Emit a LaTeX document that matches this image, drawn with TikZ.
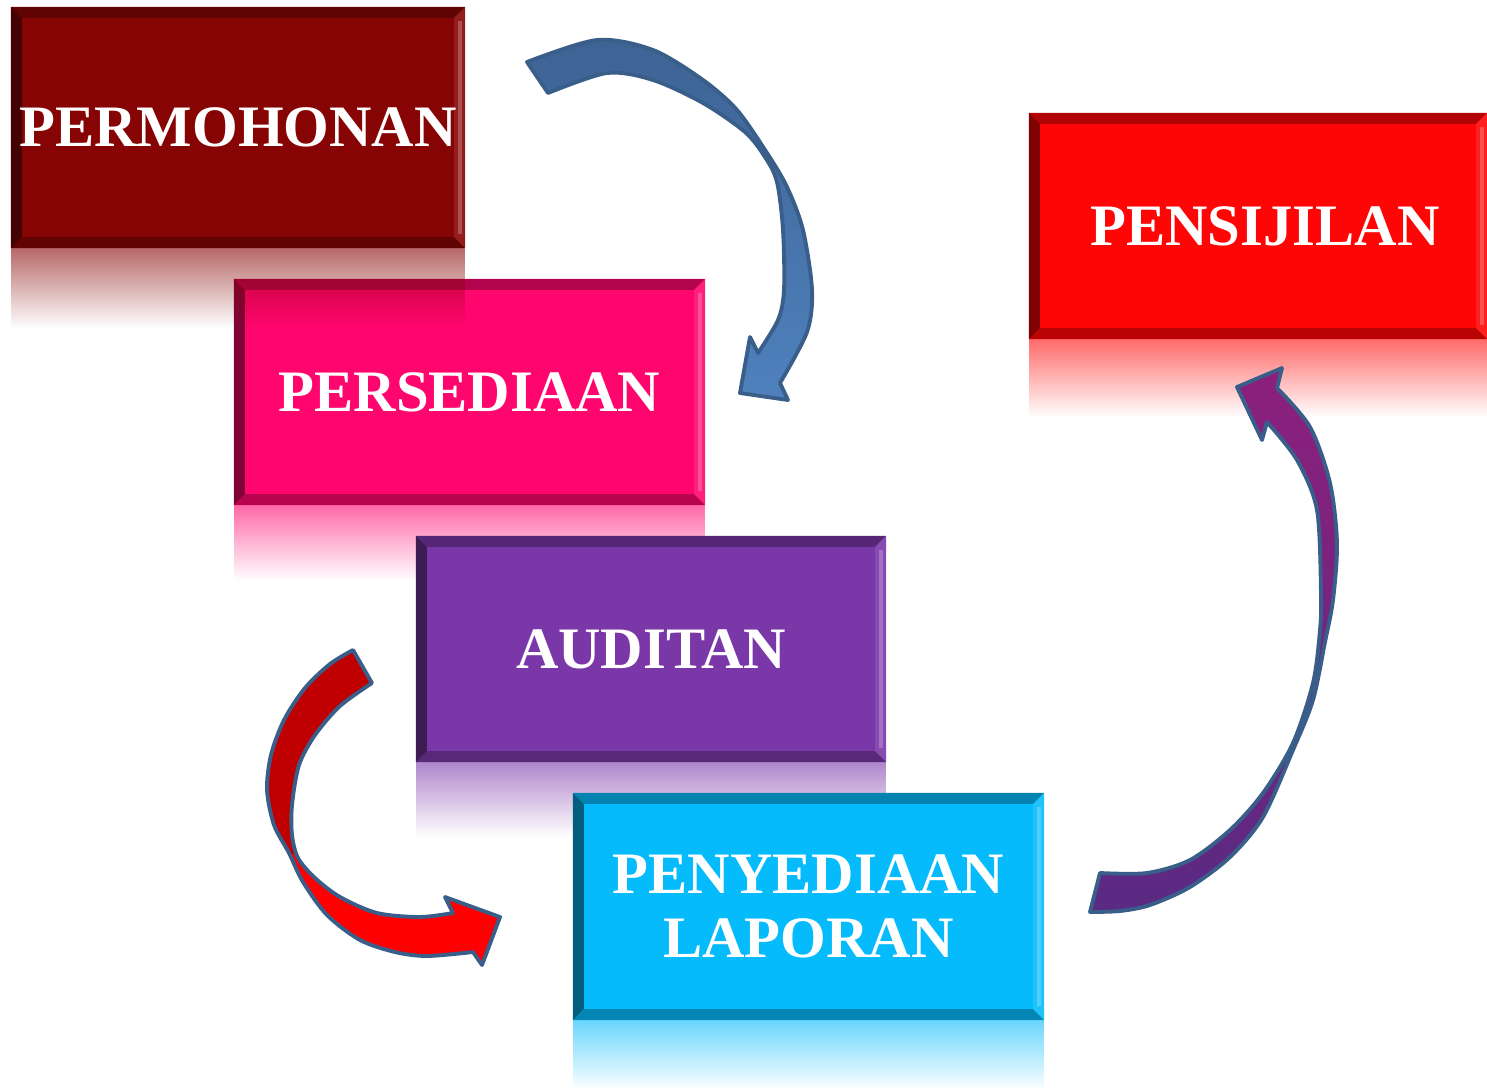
\documentclass[tikz,border=0pt]{standalone}
\usepackage{fontspec}
\setmainfont{Liberation Serif}
\usetikzlibrary{calc,fadings}
\definecolor{permred}{RGB}{135,4,4}
\definecolor{perspink}{RGB}{255,6,110}
\definecolor{auditpurple}{RGB}{122,55,168}
\definecolor{laporcyan}{RGB}{6,187,251}
\definecolor{sijilred}{RGB}{255,6,6}
\definecolor{arrowline}{RGB}{58,94,138}
\definecolor{bluetop}{RGB}{62,99,148}
\definecolor{bluebot}{RGB}{79,129,189}
\definecolor{reddark}{RGB}{192,0,0}
\definecolor{redlight}{RGB}{255,0,0}
\definecolor{purptop}{RGB}{140,32,124}
\definecolor{purpmid}{RGB}{112,48,160}
\definecolor{purpbot}{RGB}{90,42,130}

\begin{document}
\begin{tikzpicture}[x=0.01cm, y=-0.01cm,
    stepbox/.style={rectangle, inner sep=0pt, outer sep=0pt, fill=#1,
                    text=white, align=center,
                    font=\fontsize{16.7}{18}\selectfont\bfseries,
                    path picture={
                      \coordinate (bnw) at (path picture bounding box.north west);
                      \coordinate (bne) at (path picture bounding box.north east);
                      \coordinate (bsw) at (path picture bounding box.south west);
                      \coordinate (bse) at (path picture bounding box.south east);
                      \fill[#1!70!black] (bnw) -- (bne) -- ($(bne)+(-.11cm,-.11cm)$) -- ($(bnw)+(.11cm,-.11cm)$) -- cycle;
                      \fill[#1!72!black] (bsw) -- (bse) -- ($(bse)+(-.11cm,.11cm)$) -- ($(bsw)+(.11cm,.11cm)$) -- cycle;
                      \fill[#1!50!black] (bnw) -- (bsw) -- ($(bsw)+(.11cm,.11cm)$) -- ($(bnw)+(.11cm,-.11cm)$) -- cycle;
                      \fill[#1!90!white] (bne) -- (bse) -- ($(bse)+(-.11cm,.11cm)$) -- ($(bne)+(-.11cm,-.11cm)$) -- cycle;
                      \draw[#1!70!white, line width=1pt] ($(bne)+(-.05cm,-.14cm)$) -- ($(bse)+(-.05cm,.14cm)$);
                    }},
    refl/.style={fill=#1, fill opacity=.6, path fading=south},
    flow/.style={draw=arrowline, line width=1.1pt, line join=round}
  ]
    \useasboundingbox (0,0) rectangle (1487,1090);

    % boxes and their reflections
    \node[stepbox=permred, minimum width=4.54cm, minimum height=2.41cm]     (perm)  at (238,127.5) {PERMOHONAN};
    \node[stepbox=perspink, minimum width=4.71cm, minimum height=2.26cm]    (pers)  at (469.5,392) {PERSEDIAAN};
    \fill[refl=permred] (perm.south west) rectangle ++(454,80);
    \fill[refl=perspink] (pers.south west) rectangle ++(471,75);
    \node[stepbox=auditpurple, minimum width=4.70cm, minimum height=2.26cm] (audit) at (651,649)   {AUDITAN};
    \fill[refl=auditpurple] (audit.south west) rectangle ++(470,75);
    \node[stepbox=laporcyan, minimum width=4.71cm, minimum height=2.27cm]   (lapor) at (808.5,906.5) {PENYEDIAAN\\LAPORAN};
    \fill[refl=laporcyan] (lapor.south west) rectangle ++(471,70);
    \node[stepbox=sijilred, minimum width=4.58cm, minimum height=2.26cm]    (sijil) at (1258,226)  {\hspace*{.14cm}PENSIJILAN};
    \fill[refl=sijilred] (sijil.south west) rectangle ++(458,78);

    % curved arrows
    \path[flow, top color=bluetop, bottom color=bluebot]
      (527,62) -- plot[smooth] coordinates {(527,62) (597,40) (653,50) (703,80) (737,110) (767,153) (787,187) (803,230) (812,290) (807,332) (780,383)}
      -- (788,400) -- (740,393) -- (750,337) -- (758,353)
      -- plot[smooth] coordinates {(758,353) (778,320) (784,290) (783,230) (777,182) (765,157) (745,132) (703,103) (653,80) (607,73) (548,93)}
      -- cycle;

    \def\redarrow{(353,650) -- plot[smooth] coordinates {(353,650) (330,664) (305,688) (284,720) (271,755) (267,790) (274,825) (289,853) (303,882) (327,915) (360,940) (395,952) (427,956) (473,952)}
      -- (482,965) -- (500,917) -- (445,897) -- (453,913)
      -- plot[smooth] coordinates {(453,913) (420,917) (377,913) (340,897) (315,878) (298,858) (292,835) (292,805) (299,765) (315,735) (340,706) (372,683)}
      -- cycle}
    \fill[redlight] \redarrow;
    \begin{scope}
      \clip (0,600) rectangle (600,853);
      \fill[reddark] \redarrow;
    \end{scope}
    \draw[flow] \redarrow;

    \path[flow, top color=purptop, middle color=purpmid, bottom color=purpbot]
      (1100,873) -- plot[smooth] coordinates {(1100,873) (1147,873) (1190,860) (1230,830) (1263,793) (1293,743) (1313,683) (1320,630) (1321,593) (1317,510) (1297,460) (1267,422)}
      -- (1262,440) -- (1237,387) -- (1282,368) -- (1277,388)
      -- plot[smooth] coordinates {(1277,388) (1310,427) (1330,483) (1337,543) (1333,600) (1325,642) (1313,700) (1293,750) (1263,817) (1230,857) (1190,887) (1150,905) (1120,911) (1090,912)}
      -- cycle;
  \end{tikzpicture}
\end{document}
